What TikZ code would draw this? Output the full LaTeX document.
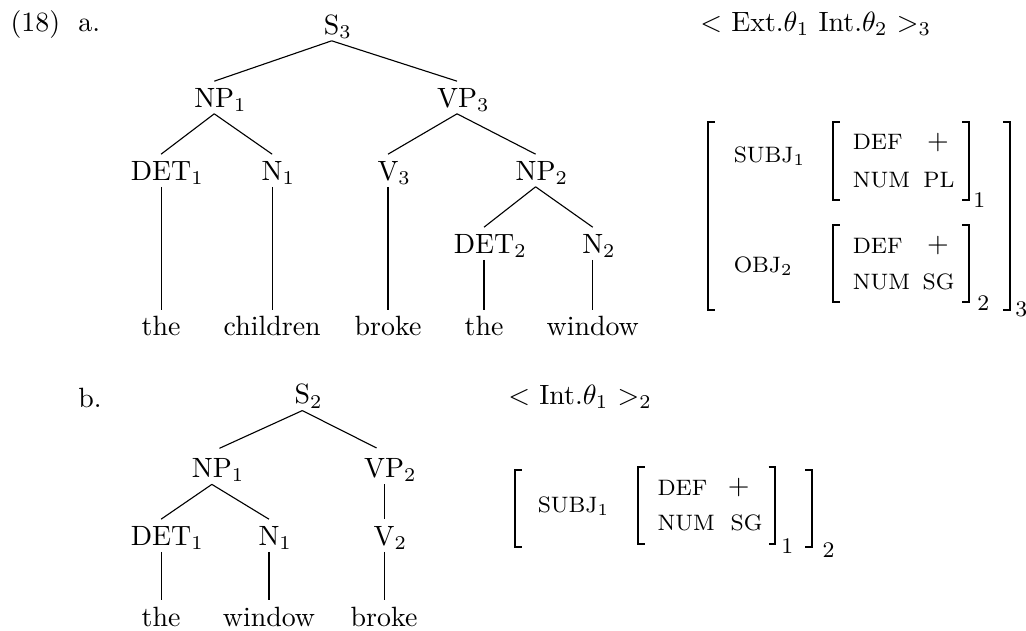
\documentclass[tikz,border=0pt]{standalone}
\begin{document}
\begin{tikzpicture}[
	categoria/.style={anchor=base, inner xsep=1pt, inner ysep=2.2pt, text height=6.9pt, text depth=0pt},
	testo/.style={anchor=base west, inner sep=0pt},
	tratto/.style={anchor=base west, inner sep=0pt, font=\footnotesize},
	indice/.style={anchor=base west, inner sep=0pt, font=\footnotesize},
	segno/.style={inner sep=0pt},
	ramo/.style={black, line width=0.4pt},
	parentesi/.style={black, line width=0.7pt},
	]
	% ── Parametri ──
	\def\sw{0.085}                                   % grazie delle parentesi
	\def\categ#1#2{#1\rlap{$_{#2}$}}
	\def\parsx#1#2#3{\draw[parentesi] (#1+\sw,#2) -- (#1,#2) -- (#1,#3) -- (#1+\sw,#3);}
	\def\pardx#1#2#3{\draw[parentesi] (#1-\sw,#2) -- (#1,#2) -- (#1,#3) -- (#1-\sw,#3);}
	\useasboundingbox (0,0) rectangle (12.93,-7.94);
	
	% ===================== (a) albero: the children broke the window =====================
	\begin{scope}
		\node[testo] (num) at (0.126,-0.40) {(18)};
		\node[testo] (lettA) at (0.98,-0.40) {a.};
		\node[categoria] (aS) at (4.18,-0.43) {\categ{S}{3}};
		\node[categoria] (aNP1) at (2.70,-1.35) {\categ{NP}{1}};
		\node[categoria] (aVP) at (5.76,-1.35) {\categ{VP}{3}};
		\node[categoria] (aDET1) at (2.03,-2.27) {\categ{DET}{1}};
		\node[categoria] (aN1) at (3.43,-2.27) {\categ{N}{1}};
		\node[categoria] (aV) at (4.89,-2.27) {\categ{V}{3}};
		\node[categoria] (aNP2) at (6.75,-2.27) {\categ{NP}{2}};
		\node[categoria] (aDET2) at (6.10,-3.19) {\categ{DET}{2}};
		\node[categoria] (aN2) at (7.47,-3.19) {\categ{N}{2}};
		\node[categoria] (aw1) at (2.03,-4.23) {the};
		\node[categoria] (aw2) at (3.43,-4.23) {children};
		\node[categoria] (aw3) at (4.89,-4.23) {broke};
		\node[categoria] (aw4) at (6.10,-4.23) {the};
		\node[categoria] (aw5) at (7.47,-4.23) {window};
		\foreach \p/\f in {aS/aNP1,aS/aVP,aNP1/aDET1,aNP1/aN1,aVP/aV,aVP/aNP2,aNP2/aDET2,aNP2/aN2,
			aDET1/aw1,aN1/aw2,aV/aw3,aDET2/aw4,aN2/aw5}
		\draw[ramo] (\p.south) -- (\f.north);
		
		% griglia tematica e struttura funzionale
		\node[testo] (aGriglia) at (8.82,-0.40) {$<$ Ext.$\theta_1$ Int.$\theta_2$ $>_3$};
		\parsx{8.92}{-1.54}{-3.91}\pardx{12.73}{-1.54}{-3.91}
		\node[indice] (aIdx3) at (12.79,-3.99) {3};
		\node[tratto] (aSubj) at (9.24,-2.05) {SUBJ$_1$};
		\parsx{10.50}{-1.54}{-2.52}\pardx{12.21}{-1.54}{-2.52}
		\node[indice] (aIdx1) at (12.26,-2.61) {1};
		\node[tratto] (aDef1) at (10.74,-1.89) {DEF};
		\node[segno] (aPiu1) at (11.82,-1.80) {$+$};
		\node[tratto] (aNum1) at (10.74,-2.36) {NUM};
		\node[tratto] (aPl) at (11.63,-2.36) {PL};
		\node[tratto] (aObj) at (9.24,-3.43) {OBJ$_2$};
		\parsx{10.50}{-2.84}{-3.81}\pardx{12.21}{-2.84}{-3.81}
		\node[indice] (aIdx2) at (12.31,-3.91) {2};
		\node[tratto] (aDef2) at (10.74,-3.19) {DEF};
		\node[segno] (aPiu2) at (11.82,-3.10) {$+$};
		\node[tratto] (aNum2) at (10.74,-3.65) {NUM};
		\node[tratto] (aSg) at (11.62,-3.65) {SG};
	\end{scope}
	
	% ===================== (b) albero: the window broke =====================
	\begin{scope}
		\node[testo] (lettB) at (0.98,-5.14) {b.};
		\node[categoria] (bS) at (3.81,-5.09) {\categ{S}{2}};
		\node[categoria] (bNP) at (2.67,-6.02) {\categ{NP}{1}};
		\node[categoria] (bVP) at (4.84,-6.02) {\categ{VP}{2}};
		\node[categoria] (bDET) at (2.03,-6.87) {\categ{DET}{1}};
		\node[categoria] (bN) at (3.39,-6.87) {\categ{N}{1}};
		\node[categoria] (bV) at (4.84,-6.87) {\categ{V}{2}};
		\node[categoria] (bw1) at (2.03,-7.89) {the};
		\node[categoria] (bw2) at (3.39,-7.89) {window};
		\node[categoria] (bw3) at (4.84,-7.89) {broke};
		\draw[ramo, shorten >=3pt] (bS.south) -- (bNP.north);
		\draw[ramo, shorten >=3pt] (bS.south) -- (bVP.north);
		\foreach \p/\f in {bNP/bDET,bNP/bN,bVP/bV,bDET/bw1,bN/bw2,bV/bw3}
		\draw[ramo] (\p.south) -- (\f.north);
		
		% griglia tematica e struttura funzionale
		\node[testo] (bGriglia) at (6.40,-5.10) {$<$ Int.$\theta_1$ $>_2$};
		\parsx{6.49}{-5.92}{-6.89}\pardx{10.23}{-5.92}{-6.89}
		\node[indice] (bIdx2) at (10.36,-7.02) {2};
		\node[tratto] (bSubj) at (6.77,-6.46) {SUBJ$_1$};
		\parsx{8.04}{-5.88}{-6.85}\pardx{9.77}{-5.88}{-6.85}
		\node[indice] (bIdx1) at (9.84,-6.97) {1};
		\node[tratto] (bDef) at (8.28,-6.24) {DEF};
		\node[segno] (bPiu) at (9.31,-6.15) {$+$};
		\node[tratto] (bNum) at (8.28,-6.68) {NUM};
		\node[tratto] (bSg) at (9.20,-6.68) {SG};
	\end{scope}
	
\end{tikzpicture}
\end{document}
